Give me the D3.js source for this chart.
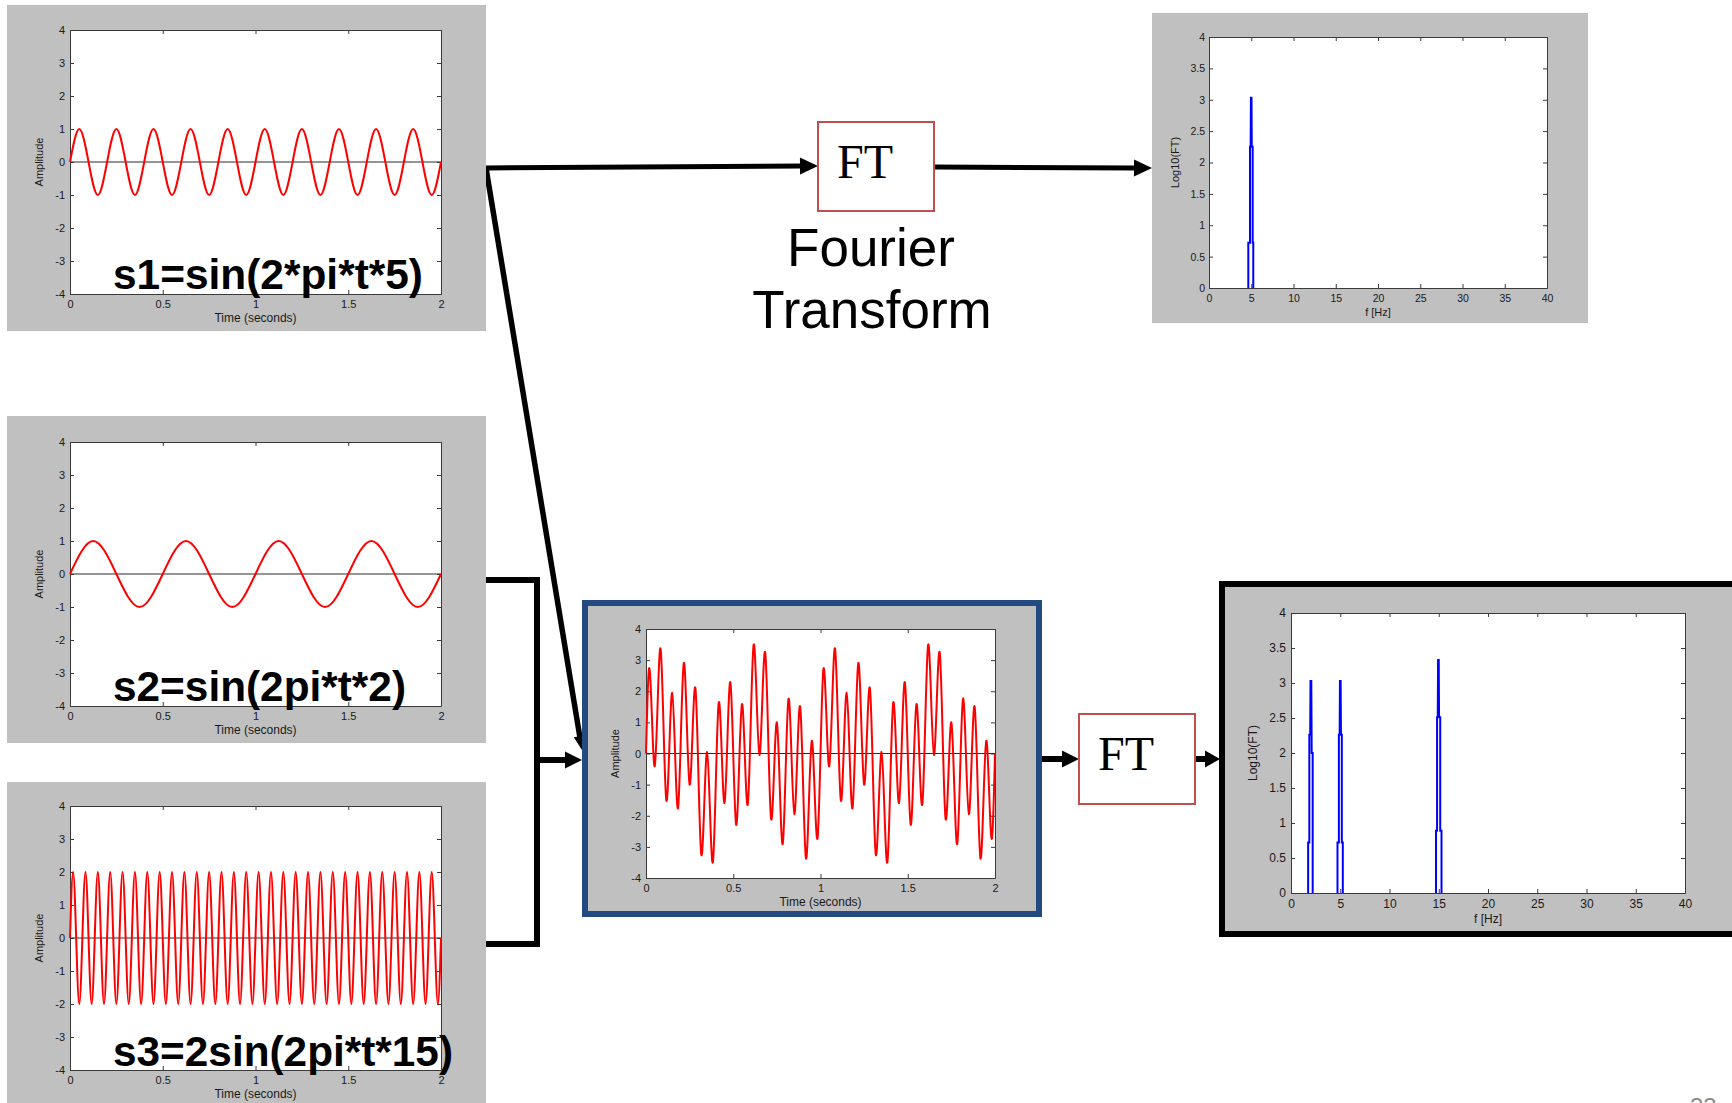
<!DOCTYPE html>
<html>
<head>
<meta charset="utf-8">
<script src="https://cdn.jsdelivr.net/npm/d3@7"></script>
<style>
  html, body { margin: 0; padding: 0; background: #fff; }
  svg { display: block; }
</style>
</head>
<body>
<svg id="fig" width="1732" height="1103"></svg>
<script>
// ---------- data ----------
const timeTicks = [0, 0.5, 1, 1.5, 2];
const ampTicks = [-4, -3, -2, -1, 0, 1, 2, 3, 4];
const freqTicks = [0, 5, 10, 15, 20, 25, 30, 35, 40];
const logTicks = [0, 0.5, 1, 1.5, 2, 2.5, 3, 3.5, 4];

// s1 = sin(2*pi*t*5), sampled every 0.05 s
const s1Step = 0.05;
const s1Values = [0,1,0,-1, 0,1,0,-1, 0,1,0,-1, 0,1,0,-1, 0,1,0,-1,
                  0,1,0,-1, 0,1,0,-1, 0,1,0,-1, 0,1,0,-1, 0,1,0,-1, 0];

// s2 = sin(2*pi*t*2), sampled every 0.125 s
const s2Step = 0.125;
const s2Values = [0,1,0,-1, 0,1,0,-1, 0,1,0,-1, 0,1,0,-1, 0];

// s3 = 2 sin(2*pi*t*15), sampled every 1/60 s
const s3Step = 1 / 60;
const s3Values = [0,2,0,-2, 0,2,0,-2, 0,2,0,-2, 0,2,0,-2, 0,2,0,-2,
                  0,2,0,-2, 0,2,0,-2, 0,2,0,-2, 0,2,0,-2, 0,2,0,-2,
                  0,2,0,-2, 0,2,0,-2, 0,2,0,-2, 0,2,0,-2, 0,2,0,-2,
                  0,2,0,-2, 0,2,0,-2, 0,2,0,-2, 0,2,0,-2, 0,2,0,-2,
                  0,2,0,-2, 0,2,0,-2, 0,2,0,-2, 0,2,0,-2, 0,2,0,-2,
                  0,2,0,-2, 0,2,0,-2, 0,2,0,-2, 0,2,0,-2, 0,2,0,-2, 0];

// s1 + s2 + s3, sampled every 1/60 s
const mixStep = 1 / 60;
const mixValues = [
  0, 2.71, 1.27, -0.41, 1.61, 3.37, 0.95, -1.51, 0.13, 1.95,
  0, -1.76, 0.59, 2.91, 1.07, -1, 0.66, 2.09, -0.59, -3.24,
  -1.73, 0.05, -1.86, -3.49, -0.95, 1.63, 0.12, -1.59, 0.46, 2.29,
  0, -2.29, -0.46, 1.59, -0.12, -1.63, 0.95, 3.49, 1.86, -0.05,
  1.73, 3.24, 0.59, -2.09, -0.66, 1, -1.07, -2.91, -0.59, 1.76,
  0, -1.95, -0.13, 1.51, -0.95, -3.37, -1.61, 0.41, -1.27, -2.71,
  0, 2.71, 1.27, -0.41, 1.61, 3.37, 0.95, -1.51, 0.13, 1.95,
  0, -1.76, 0.59, 2.91, 1.07, -1, 0.66, 2.09, -0.59, -3.24,
  -1.73, 0.05, -1.86, -3.49, -0.95, 1.63, 0.12, -1.59, 0.46, 2.29,
  0, -2.29, -0.46, 1.59, -0.12, -1.63, 0.95, 3.49, 1.86, -0.05,
  1.73, 3.24, 0.59, -2.09, -0.66, 1, -1.07, -2.91, -0.59, 1.76,
  0, -1.95, -0.13, 1.51, -0.95, -3.37, -1.61, 0.41, -1.27, -2.71,
  0
];

// log10 spectrum outlines: [frequency Hz, log10(FT)]
const spectrumS1 = [
  [[4.65,0],[4.65,0.72],[4.85,0.72],[4.85,2.25],[4.93,2.25],[4.96,3.03],
   [5.03,3.03],[5.06,2.25],[5.17,2.25],[5.17,0.72],[5.24,0.72],[5.24,0]]
];
const spectrumMix = [
  [[1.74,0],[1.74,0.72],[1.86,0.72],[1.86,2.26],[1.95,2.26],[1.98,3.03],
   [2.06,3.03],[2.1,2.0],[2.2,2.0],[2.2,0]],
  [[4.72,0],[4.72,0.72],[4.86,0.72],[4.86,2.26],[4.94,2.26],[4.97,3.03],
   [5.04,3.03],[5.07,2.26],[5.16,2.26],[5.16,0.72],[5.26,0.72],[5.26,0]],
  [[14.72,0],[14.72,0.89],[14.83,0.89],[14.83,2.51],[14.9,2.51],[14.93,3.33],
   [15.0,3.33],[15.03,2.51],[15.15,2.51],[15.15,0.89],[15.28,0.89],[15.28,0]]
];

const labelS1 = "s1=sin(2*pi*t*5)";
const labelS2 = "s2=sin(2pi*t*2)";
const labelS3 = "s3=2sin(2pi*t*15)";

// ---------- drawing ----------
const SANS = '"Liberation Sans", Arial, Helvetica, sans-serif';
const SERIF = '"Liberation Serif", "Times New Roman", Times, serif';
const PANEL_GRAY = "#c0c0c0";
const AXIS_COLOR = "#3a3a3a";
const TEXT_COLOR = "#1a1a1a";

const svg = d3.select("#fig");
svg.append("rect").attr("width", 1732).attr("height", 1103).attr("fill", "#fff");

const arrowLayer = svg.append("g");
const panelLayer = svg.append("g");

function grayPanel(x, y, w, h) {
  panelLayer.append("rect")
    .attr("x", x).attr("y", y).attr("width", w).attr("height", h)
    .attr("fill", PANEL_GRAY);
}

// MATLAB-like boxed axes with inward ticks on all four sides
function boxedAxes(g, x, y, xTicks, yTicks, o) {
  const [x0, x1] = x.range();
  const [yb, yt] = y.range();
  g.append("rect").attr("x", x0).attr("y", yt)
    .attr("width", x1 - x0).attr("height", yb - yt).attr("fill", "#fff");
  const fmt = d => String(d);
  const parts = [
    g.append("g").attr("transform", `translate(0,${yb})`)
      .call(d3.axisBottom(x).tickValues(xTicks).tickFormat(fmt)
        .tickSize(-4).tickSizeOuter(0).tickPadding(o.xPad)),
    g.append("g").attr("transform", `translate(${x0},0)`)
      .call(d3.axisLeft(y).tickValues(yTicks).tickFormat(fmt)
        .tickSize(-4).tickSizeOuter(0).tickPadding(o.yPad)),
    g.append("g").attr("transform", `translate(0,${yt})`)
      .call(d3.axisTop(x).tickValues(xTicks).tickFormat("")
        .tickSize(-4).tickSizeOuter(0)),
    g.append("g").attr("transform", `translate(${x1},0)`)
      .call(d3.axisRight(y).tickValues(yTicks).tickFormat("")
        .tickSize(-4).tickSizeOuter(0))
  ];
  parts.forEach(a => {
    a.select(".domain").attr("stroke", AXIS_COLOR).attr("stroke-width", 1);
    a.selectAll(".tick line").attr("stroke", AXIS_COLOR);
    a.selectAll(".tick text")
      .attr("font-family", SANS).attr("font-size", o.tickFont).attr("fill", TEXT_COLOR);
  });
  // axis titles
  g.append("text")
    .attr("x", (x0 + x1) / 2).attr("y", yb + o.xTitleGap)
    .attr("text-anchor", "middle")
    .attr("font-family", SANS).attr("font-size", o.titleFont).attr("fill", TEXT_COLOR)
    .text(o.xTitle);
  g.append("text")
    .attr("transform", `translate(${x0 - o.yTitleGap},${(yb + yt) / 2}) rotate(-90)`)
    .attr("text-anchor", "middle")
    .attr("font-family", SANS).attr("font-size", o.yTitleFont || o.titleFont).attr("fill", TEXT_COLOR)
    .text(o.yTitle);
}

function timePlot(box, values, step, o) {
  const g = panelLayer.append("g");
  const x = d3.scaleLinear().domain([0, 2]).range([box.l, box.r]);
  const y = d3.scaleLinear().domain([-4, 4]).range([box.b, box.t]);
  boxedAxes(g, x, y, timeTicks, ampTicks, {
    xPad: 6, yPad: 5, tickFont: 11, titleFont: 12, yTitleFont: 11,
    xTitleGap: 28, yTitleGap: 27,
    xTitle: "Time (seconds)", yTitle: "Amplitude"
  });
  // zero reference line
  g.append("line")
    .attr("x1", x(0)).attr("x2", x(2)).attr("y1", y(0)).attr("y2", y(0))
    .attr("stroke", "#2a2a2a").attr("stroke-width", 1);
  const line = d3.line()
    .x((d, i) => x(i * step)).y(d => y(d))
    .curve(d3.curveNatural);
  g.append("path").datum(values)
    .attr("d", line)
    .attr("fill", "none").attr("stroke", "#ff0000")
    .attr("stroke-width", o.lineWidth || 2).attr("stroke-linejoin", "round");
  if (o.label) {
    g.append("text")
      .attr("x", o.label.x).attr("y", o.label.y)
      .attr("font-family", SANS).attr("font-weight", "bold")
      .attr("font-size", 42).attr("fill", "#000")
      .attr("textLength", o.label.w).attr("lengthAdjust", "spacingAndGlyphs")
      .text(o.label.text);
  }
}

function spectrumPlot(box, peaks, o) {
  const g = panelLayer.append("g");
  const x = d3.scaleLinear().domain([0, 40]).range([box.l, box.r]);
  const y = d3.scaleLinear().domain([0, 4]).range([box.b, box.t]);
  boxedAxes(g, x, y, freqTicks, logTicks, {
    xPad: o.xPad, yPad: o.yPad, tickFont: o.tickFont, titleFont: o.titleFont,
    xTitleGap: o.xTitleGap, yTitleGap: o.yTitleGap,
    xTitle: "f [Hz]", yTitle: "Log10(FT)"
  });
  const line = d3.line().x(d => x(d[0])).y(d => y(d[1]));
  g.selectAll("path.peak").data(peaks).join("path")
    .attr("class", "peak")
    .attr("d", line)
    .attr("fill", "none").attr("stroke", "#0000ff")
    .attr("stroke-width", 2).attr("stroke-linejoin", "miter");
}

function arrow(x1, y1, x2, y2, width, headLen, headW) {
  const dx = x2 - x1, dy = y2 - y1;
  const len = Math.hypot(dx, dy);
  const ux = dx / len, uy = dy / len;
  const bx = x2 - ux * headLen, by = y2 - uy * headLen;
  arrowLayer.append("line")
    .attr("x1", x1).attr("y1", y1).attr("x2", bx + ux).attr("y2", by + uy)
    .attr("stroke", "#000").attr("stroke-width", width);
  const px = -uy * headW / 2, py = ux * headW / 2;
  arrowLayer.append("path")
    .attr("d", `M${x2},${y2}L${bx + px},${by + py}L${bx - px},${by - py}Z`)
    .attr("fill", "#000");
}

function ftBox(x, y, w, h) {
  const g = panelLayer.append("g");
  g.append("rect").attr("x", x).attr("y", y).attr("width", w).attr("height", h)
    .attr("fill", "#fff").attr("stroke", "#c0504d").attr("stroke-width", 2);
  g.append("text").attr("x", x + 19).attr("y", y + 56)
    .attr("font-family", SERIF).attr("font-size", 48).attr("fill", "#000")
    .text("FT");
}

// --- connectors ---
arrow(486, 168, 818, 166, 5, 18, 17);
arrow(934, 167, 1152, 168, 5, 18, 17);
arrow(486, 168, 582, 750, 5.5, 14, 12);
arrowLayer.append("path")
  .attr("d", "M486,580H537V944H486")
  .attr("fill", "none").attr("stroke", "#000").attr("stroke-width", 6)
  .attr("stroke-linejoin", "miter");
arrow(537, 760, 582, 760, 6, 17, 17);
arrow(1042, 759, 1079, 759, 6, 17, 17);
arrow(1195, 759, 1220, 759, 6, 15, 17);

// --- signal panels ---
grayPanel(7, 5, 479, 326);
timePlot({ l: 70, r: 441, t: 30, b: 294 }, s1Values, s1Step,
  { label: { text: labelS1, x: 113, y: 289, w: 310 } });

grayPanel(7, 416, 479, 327);
timePlot({ l: 70, r: 441, t: 442, b: 706 }, s2Values, s2Step,
  { label: { text: labelS2, x: 113, y: 701, w: 293 } });

grayPanel(7, 782, 479, 330);
timePlot({ l: 70, r: 441, t: 806, b: 1070 }, s3Values, s3Step,
  { label: { text: labelS3, x: 113, y: 1066, w: 340 } });

// --- summed signal panel ---
panelLayer.append("rect")
  .attr("x", 585).attr("y", 603).attr("width", 454).attr("height", 311)
  .attr("fill", PANEL_GRAY).attr("stroke", "#234b81").attr("stroke-width", 6);
timePlot({ l: 646, r: 995, t: 629, b: 878 }, mixValues, mixStep, { lineWidth: 2 });

// --- FT blocks ---
ftBox(818, 122, 116, 89);
ftBox(1079, 714, 116, 90);
panelLayer.append("text")
  .attr("x", 871).attr("y", 266).attr("text-anchor", "middle")
  .attr("font-family", SANS).attr("font-size", 53).attr("fill", "#000")
  .text("Fourier");
panelLayer.append("text")
  .attr("x", 872).attr("y", 328).attr("text-anchor", "middle")
  .attr("font-family", SANS).attr("font-size", 53).attr("fill", "#000")
  .text("Transform");

// --- spectra ---
grayPanel(1152, 13, 436, 310);
spectrumPlot({ l: 1209, r: 1547, t: 37, b: 288 }, spectrumS1, {
  xPad: 6.5, yPad: 4, tickFont: 10.5, titleFont: 11, xTitleGap: 28, yTitleGap: 30
});

panelLayer.append("rect")
  .attr("x", 1222).attr("y", 584).attr("width", 560).attr("height", 350)
  .attr("fill", PANEL_GRAY).attr("stroke", "#000").attr("stroke-width", 6);
spectrumPlot({ l: 1291, r: 1685, t: 613, b: 893 }, spectrumMix, {
  xPad: 6.5, yPad: 5, tickFont: 12, titleFont: 12, xTitleGap: 30, yTitleGap: 34
});

// slide number, mostly below the visible edge
svg.append("text")
  .attr("x", 1690).attr("y", 1115)
  .attr("font-family", SANS).attr("font-size", 24).attr("fill", "#8c8c8c")
  .text("33");
</script>
</body>
</html>
